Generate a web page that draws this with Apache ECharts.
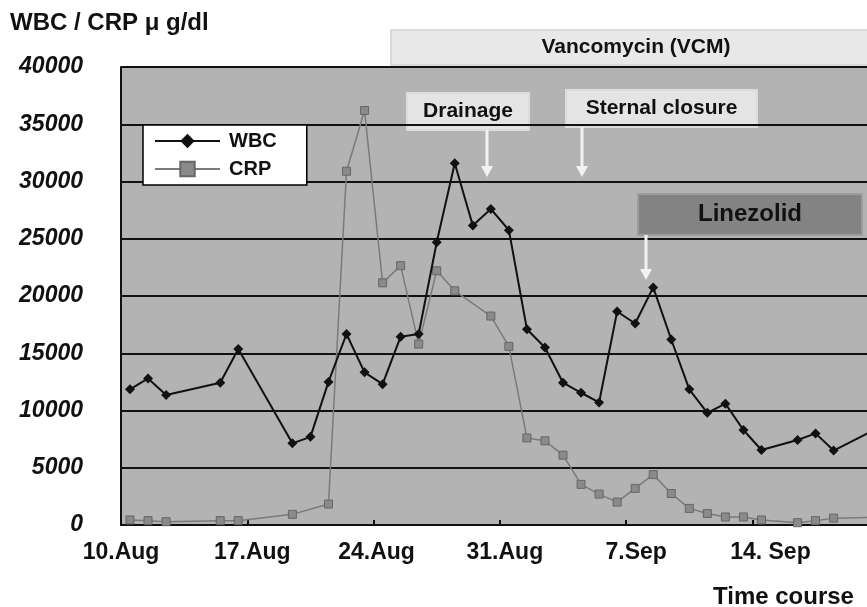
<!DOCTYPE html>
<html>
<head>
<meta charset="utf-8">
<title>WBC / CRP time course</title>
<script src="https://cdn.jsdelivr.net/npm/echarts@6/dist/echarts.min.js"></script>
<style>
  html, body { margin: 0; padding: 0; background: #fff; }
  #main { width: 867px; height: 607px; }
</style>
</head>
<body>
<div id="main"></div>
<script>
// days counted from 10 Aug
var days = [0, 1, 2, 5, 6, 9, 10, 11, 12, 13, 14, 15, 16, 17, 18, 19, 20, 21, 22, 23,
  24, 25, 26, 27, 28, 29, 30, 31, 32, 33, 34, 35, 37, 38, 39, 41];
var wbcValues = [11850, 12800, 11350, 12430, 15370, 7130, 7700, 12500, 16680, 13330,
  12300, 16450, 16680, 24700, 31600, 26150, 27600, 25750, 17100, 15500,
  12430, 11550, 10700, 18650, 17600, 20750, 16200, 11850, 9800, 10600,
  8300, 6550, 7420, 8000, 6500, 8100];
var crpValues = [440, 380, 290, 380, 380, 930, null, 1830, 30900, 36200,
  21150, 22650, 15800, 22200, 20450, null, 18250, 15600, 7600, 7350,
  6100, 3550, 2700, 2000, 3200, 4400, 2750, 1450, 1000, 700,
  700, 440, 200, 380, 600, 670];
var tickLabels = ['10.Aug', '17.Aug', '24.Aug', '31.Aug', '7.Sep', '14. Sep'];

var FONT = 'Liberation Sans, Arial, sans-serif';

// 每个点画在当天的中间
function toPoints(values) {
  var out = [];
  for (var i = 0; i < days.length; i++) {
    if (values[i] != null) out.push([days[i] + 0.5, values[i]]);
  }
  return out;
}

function arrow(x, y1, y2) {
  return [
    { type: 'line', shape: { x1: x, y1: y1, x2: x, y2: y2 - 8 },
      style: { stroke: '#f2f2f2', lineWidth: 3 }, z: 10 },
    { type: 'polygon', shape: { points: [[x - 6, y2 - 11], [x + 6, y2 - 11], [x, y2]] },
      style: { fill: '#f2f2f2' }, z: 10 }
  ];
}

function box(x, y, w, h, fill, stroke, text, size, color) {
  return {
    type: 'group', z: 10,
    children: [
      { type: 'rect', shape: { x: x, y: y, width: w, height: h },
        style: { fill: fill, stroke: stroke, lineWidth: 2 } },
      { type: 'text', x: x + w / 2, y: y + h / 2,
        style: { text: text, font: 'bold ' + size + 'px ' + FONT, fill: color || '#111',
          align: 'center', verticalAlign: 'middle' } }
    ]
  };
}

// x轴标签在原图里略偏右
var labelShift = [0, 5, 3, 5, 10, 18];
var labelRich = {};
labelShift.forEach(function (s, i) {
  labelRich['s' + i] = { fontFamily: FONT, fontWeight: 'bold', fontSize: 23, color: '#111',
    padding: [0, 0, 0, s * 2] };
});

var myChart = echarts.init(document.getElementById('main'));

var graphics = [
  { type: 'text', left: 10, top: 11,
    style: { text: 'WBC / CRP \u03bc g/dl', font: 'bold 24px ' + FONT, fill: '#111' } },
  { type: 'text', left: 713, top: 585,
    style: { text: 'Time course', font: 'bold 24px ' + FONT, fill: '#111' } },
  box(391, 30, 490, 35, '#e8e8e8', '#dadada', 'Vancomycin (VCM)', 21),
  box(407, 93, 122, 37, '#e4e4e4', '#dcdcdc', 'Drainage', 21),
  box(566, 90, 191, 37, '#e4e4e4', '#dcdcdc', 'Sternal closure', 21),
  box(638, 194, 224, 41, '#838383', '#9c9c9c', 'Linezolid', 24)
].concat(arrow(487, 130, 177), arrow(582, 127, 177), arrow(646, 235, 280));

var option = {
  animation: false,
  backgroundColor: '#fff',
  grid: {
    left: 121, top: 67, width: 746, height: 458,
    show: true, backgroundColor: '#b3b3b3', borderWidth: 0
  },
  legend: {
    left: 143, top: 125,
    orient: 'vertical',
    backgroundColor: '#fff',
    borderColor: '#000', borderWidth: 1.5,
    padding: [5, 30, 5, 11],
    itemWidth: 65, itemHeight: 18, itemGap: 6,
    textStyle: { fontFamily: FONT, fontWeight: 'bold', fontSize: 20, color: '#111',
      lineHeight: 22, padding: [0, 0, 0, 4] },
    data: ['WBC', 'CRP']
  },
  xAxis: {
    type: 'value', min: 0, max: 41.35, interval: 7,
    axisLine: { show: true, lineStyle: { color: '#111', width: 2 } },
    axisTick: { show: true, inside: true, length: 5, lineStyle: { color: '#111', width: 2 } },
    splitLine: { show: false },
    axisLabel: {
      margin: 16, fontFamily: FONT, fontWeight: 'bold', fontSize: 23, color: '#111',
      showMaxLabel: false,
      rich: labelRich,
      formatter: function (v) {
        var i = Math.round(v / 7);
        return tickLabels[i] ? '{s' + i + '|' + tickLabels[i] + '}' : '';
      }
    }
  },
  yAxis: {
    type: 'value', min: 0, max: 40000, interval: 5000,
    axisLine: { show: true, lineStyle: { color: '#111', width: 2 } },
    axisTick: { show: false },
    splitLine: { show: true, lineStyle: { color: '#111', width: 2 } },
    axisLabel: {
      margin: 38, fontFamily: FONT, fontWeight: 'bold', fontStyle: 'italic', fontSize: 23,
      color: '#111', padding: [0, 0, 8, 0],
      formatter: function (v) { return String(v); }
    }
  },
  series: [
    {
      name: 'WBC', type: 'line',
      data: toPoints(wbcValues),
      symbol: 'diamond', symbolSize: 10,
      lineStyle: { color: '#111', width: 2 },
      itemStyle: { color: '#111' },
      z: 5
    },
    {
      name: 'CRP', type: 'line',
      data: toPoints(crpValues),
      symbol: 'rect', symbolSize: 8,
      lineStyle: { color: '#7a7a7a', width: 1.5 },
      itemStyle: { color: '#8a8a8a', borderColor: '#666', borderWidth: 1 },
      z: 4
    }
  ],
  graphic: graphics
};

myChart.setOption(option);
</script>
</body>
</html>
